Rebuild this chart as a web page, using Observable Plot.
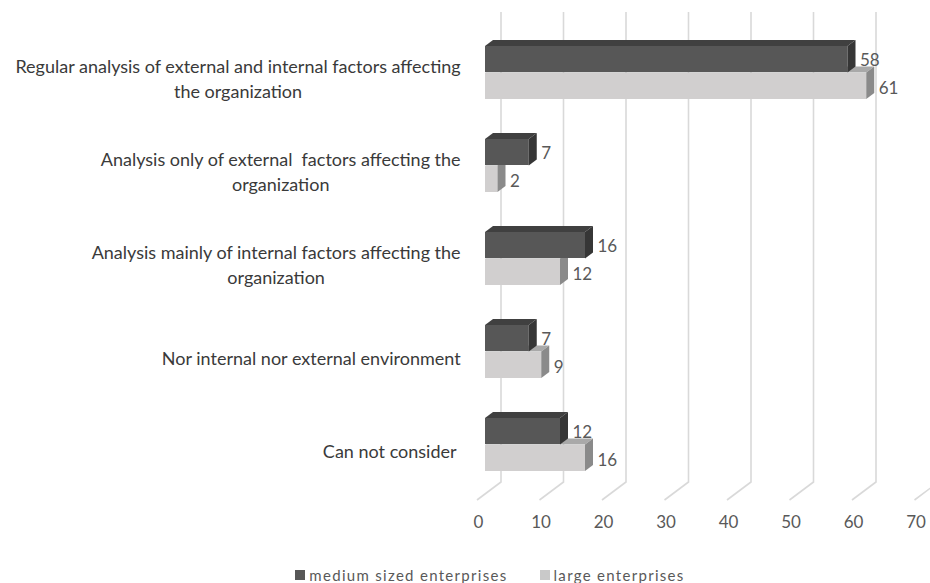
<!DOCTYPE html>
<html>
<head>
<meta charset="utf-8">
<script src="https://cdn.jsdelivr.net/npm/d3@7"></script>
<script src="https://cdn.jsdelivr.net/npm/@observablehq/plot@0.6"></script>
<style>
  body { margin: 0; background: #fff; width: 930px; height: 583px; overflow: hidden; font-family: Lato, sans-serif; }
  #legend { display: flex; justify-content: center; align-items: center; gap: 32px; padding-left: 50px; padding-top: 12px; height: 16px; font-size: 15px; letter-spacing: 1.3px; color: #595959; }
  #legend .item { display: flex; align-items: center; gap: 4px; }
  #legend .sw { width: 10px; height: 10px; display: inline-block; }
</style>
</head>
<body>
<div id="chart"></div>
<div id="legend"></div>
<script>
// Survey answers: how enterprises consider their environment (%)
const categories = [
  "Regular analysis of external and internal factors affecting the organization",
  "Analysis only of external  factors affecting the organization",
  "Analysis mainly of internal factors affecting the organization",
  "Nor internal nor external environment",
  "Can not consider "
];
const categoryLines = [
  "Regular analysis of external and internal factors affecting\nthe organization",
  "Analysis only of external  factors affecting the\norganization",
  "Analysis mainly of internal factors affecting the\norganization",
  "Nor internal nor external environment",
  "Can not consider "
];
const seriesNames = ["medium sized enterprises", "large enterprises"];
const mediumValues = [58, 7, 16, 7, 12];
const largeValues = [61, 2, 12, 9, 16];
const xTicks = [0, 10, 20, 30, 40, 50, 60, 70];

// Face shades for the extruded bars
const shades = {
  medium: {front: "#575757", top: "#404040", side: "#363636"},
  large: {front: "#d1cfcf", top: "#a9a9a9", side: "#8a8a8a"}
};
const DEPTH = {x: 8, y: 6};   // bar extrusion
const gridColor = "#d9d9d9";
const font = "Lato";

const mediumRows = categories.map((category, i) => ({category, value: mediumValues[i]}));
const largeRows = categories.map((category, i) => ({category, value: largeValues[i]}));

const bandwidthOf = (s) => typeof s.bandwidth === "function" ? s.bandwidth() : s.bandwidth;

// Back-wall gridlines that bend onto the floor
const wallGrid = (index, scales, values, dims) => {
  const x = scales.x;
  const top = dims.marginTop, bottom = dims.height - dims.marginBottom;
  const g = d3.create("svg:g").attr("fill", "none").attr("stroke", gridColor).attr("stroke-width", 1.6);
  for (const t of xTicks) {
    const X = x(t);
    g.append("path").attr("d", `M${X + 2 * DEPTH.x},${top - 2 * DEPTH.y}V${bottom - 2 * DEPTH.y}L${X - DEPTH.x},${bottom + DEPTH.y}`);
  }
  return g.node();
};

// Top and side faces of one series; half selects the upper or lower half of each band
const barDepth = (rows, half, shade) => (index, scales) => {
  const x = scales.x, y = scales.y, bw = bandwidthOf(y);
  const g = d3.create("svg:g");
  for (const r of rows) {
    const x0 = x(0), x1 = x(r.value);
    const top = y(r.category) + (half === "upper" ? 0 : bw / 2);
    const bot = top + bw / 2;
    g.append("path").attr("fill", shade.top)
      .attr("d", `M${x0},${top}L${x0 + DEPTH.x},${top - DEPTH.y}L${x1 + DEPTH.x},${top - DEPTH.y}L${x1},${top}Z`);
    g.append("path").attr("fill", shade.side)
      .attr("d", `M${x1},${top}L${x1 + DEPTH.x},${top - DEPTH.y}L${x1 + DEPTH.x},${bot - DEPTH.y}L${x1},${bot}Z`);
  }
  return g.node();
};

// Wrapped category labels: lines centred on one another, block aligned right of the axis
const categoryLabels = (index, scales, values, dims) => {
  const y = scales.y, bw = bandwidthOf(y);
  const size = 18, lineStep = 25;
  const right = dims.marginLeft - 24;
  const ctx = document.createElement("canvas").getContext("2d");
  ctx.font = `${size}px ${font}`;
  const g = d3.create("svg:g")
    .attr("font-family", font).attr("font-size", size).attr("fill", "#3a3a3a")
    .attr("text-anchor", "middle").style("white-space", "pre");
  categories.forEach((c, i) => {
    const lines = categoryLines[i].split("\n");
    const w = Math.max(...lines.map(l => ctx.measureText(l).width));
    const cx = right - w / 2;
    const cy = y(c) + bw / 2 + 7;
    lines.forEach((l, j) => {
      g.append("text")
        .attr("x", cx)
        .attr("y", cy + (j - (lines.length - 1) / 2) * lineStep)
        .attr("dy", "0.35em")
        .text(l);
    });
  });
  return g.node();
};

const plot = Plot.plot({
  width: 930,
  height: 555,
  marginLeft: 485,
  marginRight: 7.5,
  marginTop: 24,
  marginBottom: 61,
  style: {fontFamily: font, background: "transparent"},
  x: {domain: [0, 70], axis: null},
  y: {domain: categories, axis: null, paddingInner: 0.4255, paddingOuter: 0.2128},
  marks: [
    wallGrid,
    Plot.text(xTicks, {x: d => d, text: d => String(d), frameAnchor: "bottom", dy: 33, dx: -7, fontSize: 17, fill: "#595959", fontFamily: font}),
    Plot.text(mediumRows, {x: "value", y: "category", text: d => String(d.value), textAnchor: "start", dx: 12, dy: -12, fontSize: 17, fill: "#595959", fontFamily: font}),
    Plot.barX(largeRows, {x: "value", y: "category", insetTop: 27, fill: shades.large.front}),
    barDepth(largeRows, "lower", shades.large),
    Plot.barX(mediumRows, {x: "value", y: "category", insetBottom: 27, fill: shades.medium.front}),
    barDepth(mediumRows, "upper", shades.medium),
    Plot.text(largeRows, {x: "value", y: "category", text: d => String(d.value), textAnchor: "start", dx: 12, dy: 15.5, fontSize: 17, fill: "#595959", fontFamily: font}),
    categoryLabels
  ]
});
document.getElementById("chart").append(plot);

// Legend
const legend = d3.select("#legend");
seriesNames.forEach((name, i) => {
  const item = legend.append("span").attr("class", "item");
  item.append("span").attr("class", "sw").style("background", i === 0 ? shades.medium.front : "#c9c9c9");
  item.append("span").text(name);
});
</script>
</body>
</html>
